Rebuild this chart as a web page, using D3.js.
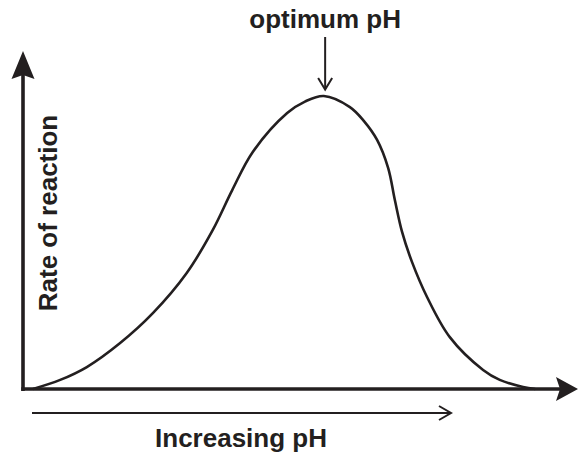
<!DOCTYPE html>
<html><head><meta charset="utf-8">
<script src="https://cdn.jsdelivr.net/npm/d3@7/dist/d3.min.js"></script>
<style>html,body{margin:0;padding:0;background:#fff;}svg{display:block;}</style>
</head><body>
<script>
// Data (arbitrary units)
const phValues   = [1.8, 6.7, 11.5, 17.5, 23.4, 29.5, 34.2, 37.7, 41.4, 47.6, 50.8, 54.2, 58.9, 61.4, 63.8, 65.8, 67.0, 68.3, 70.1, 72.8, 76.9, 82.9, 85.9, 90.1, 92.3];
const rateValues = [0, 3.1, 7.5, 15.7, 25.9, 39.6, 54.3, 67.9, 80.9, 94.2, 98.1, 100, 96.2, 91.5, 85.0, 75.4, 64.5, 53.6, 43.3, 31.4, 17.7, 6.5, 3.1, 0.7, 0];
const optimumPh = 53.9;
const labels = { x: "Increasing pH", y: "Rate of reaction", peak: "optimum pH" };

const W = 578, H = 452, ink = "#231f20";
const svg = d3.select("body").append("svg").attr("width", W).attr("height", H);

const x = d3.scaleLinear().domain([0, 100]).range([23, 578]);
const y = d3.scaleLinear().domain([0, 100]).range([389, 96]);

const font = "'Liberation Sans', Arial, sans-serif";

// Curve
const pts = phValues.map((v, i) => [v, rateValues[i]]);
svg.append("path")
  .attr("d", d3.line().x(d => x(d[0])).y(d => y(d[1])).curve(d3.curveCatmullRom.alpha(0.5))(pts))
  .attr("fill", "none").attr("stroke", ink).attr("stroke-width", 2.6);

// Axes
const x0 = x(0), y0 = y(0);
svg.append("line").attr("x1", x0).attr("y1", y0 + 2).attr("x2", x0).attr("y2", 74)
  .attr("stroke", ink).attr("stroke-width", 3.6);
svg.append("line").attr("x1", x0 - 1.8).attr("y1", y0).attr("x2", 560).attr("y2", y0)
  .attr("stroke", ink).attr("stroke-width", 3.6);
// Arrowheads
svg.append("path").attr("d", `M${x0},51 L${x0+11.5},79 L${x0},75 L${x0-11.5},79 Z`).attr("fill", ink);
svg.append("path").attr("d", `M578,${y0} L556,${y0-12} L560,${y0} L556,${y0+12} Z`).attr("fill", ink);

// Increasing pH arrow
svg.append("line").attr("x1", 32).attr("y1", 413).attr("x2", 450).attr("y2", 413)
  .attr("stroke", ink).attr("stroke-width", 2);
svg.append("path").attr("d", "M439,406 L451,413 L439,420").attr("fill", "none")
  .attr("stroke", ink).attr("stroke-width", 2);

// Optimum arrow
const ox = x(optimumPh) + 3;
svg.append("line").attr("x1", ox).attr("y1", 37).attr("x2", ox).attr("y2", 89)
  .attr("stroke", ink).attr("stroke-width", 2);
svg.append("path").attr("d", `M${ox-7},78 L${ox},89.5 L${ox+7},78`).attr("fill", "none")
  .attr("stroke", ink).attr("stroke-width", 2);

// Labels
svg.append("text").attr("x", ox).attr("y", 28).attr("text-anchor", "middle")
  .attr("font-family", font).attr("font-weight", "bold").attr("font-size", 26).attr("fill", ink)
  .text(labels.peak);
svg.append("text").attr("x", 241).attr("y", 447).attr("text-anchor", "middle")
  .attr("font-family", font).attr("font-weight", "bold").attr("font-size", 26).attr("fill", ink)
  .text(labels.x);
svg.append("text").attr("transform", "translate(57,213) rotate(-90)").attr("text-anchor", "middle")
  .attr("font-family", font).attr("font-weight", "bold").attr("font-size", 26).attr("fill", ink)
  .text(labels.y);
</script>
</body></html>
